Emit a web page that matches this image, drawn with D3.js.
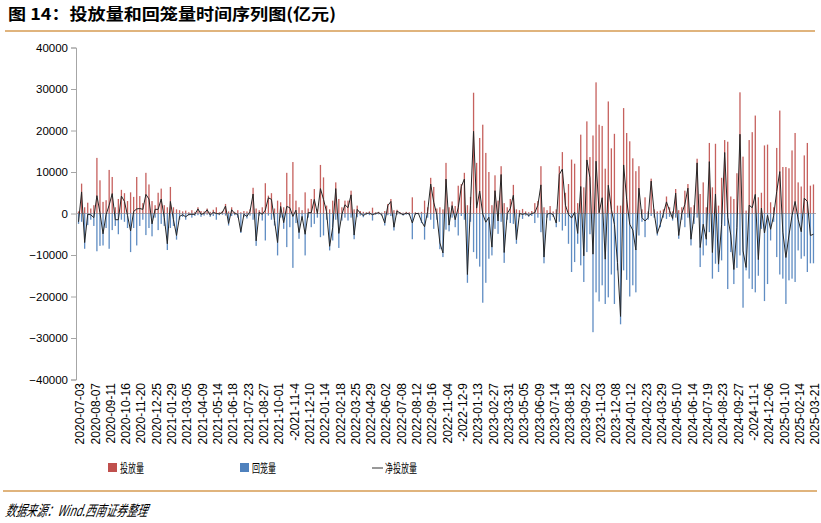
<!DOCTYPE html>
<html><head><meta charset="utf-8">
<script src="https://cdn.jsdelivr.net/npm/d3@7/dist/d3.min.js"></script>
<style>
body{margin:0;background:#fff;}
svg{display:block;}
</style></head>
<body>
<svg id="c" width="821" height="523"></svg>
<script>
const dateLabels = ["2020-07-03","2020-08-07","2020-09-11","2020-10-16","2020-11-20","2020-12-25","2021-01-29","2021-03-05","2021-04-09","2021-05-14","2021-06-18","2021-07-23","2021-08-27","2021-10-01","-2021-11-4","2021-12-10","2022-01-14","2022-02-18","2022-03-25","2022-04-29","2022-06-02","2022-07-08","2022-08-12","2022-09-16","2022-11-04","-2022-12-9","2023-01-13","2023-02-27","2023-03-31","2023-05-05","2023-06-09","2023-07-14","2023-08-18","2023-09-22","2023-11-03","2023-12-08","2024-01-12","2024-02-23","2024-03-29","2024-05-10","2024-06-14","2024-07-19","2024-08-23","2024-09-27","-2024-11-1","2024-12-06","2025-01-10","2025-02-14","2025-03-21"];

const injection = [500,7200,1500,2600,1200,2000,13400,8000,2800,3200,
10500,8800,1500,3500,5700,4900,3000,5100,4000,8800,
4200,2500,9800,7000,3000,2000,5000,6000,2000,1500,
6400,1500,1000,800,500,700,300,800,400,1500,
600,500,1200,400,900,1500,300,600,2300,500,
1500,400,800,300,600,500,1000,6200,1200,800,
1500,7300,4300,4900,1200,3100,2700,1500,9800,4700,
12400,3100,1500,800,5100,1200,3500,5900,1000,11700,
8700,1900,1000,3100,7500,3500,1500,3100,3100,5500,
1000,1900,600,400,300,500,1400,300,400,200,
600,2300,3500,800,900,300,200,400,300,3900,
300,200,400,3100,1500,8600,6400,1200,1500,1000,
12200,1500,2900,1800,6700,7100,9800,2000,4000,29100,
12200,18200,21400,14600,10000,2000,9200,3100,11400,2500,
1500,3500,6900,1000,800,1100,500,300,600,2500,
3000,11400,1500,800,1800,500,1000,11400,14800,5000,
7100,13000,12000,2500,19000,6300,22200,13600,18800,31600,
21400,21100,10800,27000,15700,19200,1900,1900,25400,19400,
17400,13300,10200,11400,1000,3900,500,8400,1000,500,
700,1000,4100,1500,500,5900,800,1500,5500,7100,
1500,2000,13200,4700,7500,1500,17000,6300,16800,1900,
8600,17700,17300,4100,3500,9700,29200,13700,700,17700,
19600,23600,3900,5000,16400,16600,2700,1500,15800,24800,
11200,11200,10900,15200,19400,7500,6500,14000,17000,6700,
7000];

const withdrawal = [-2500,-2000,-8500,-2800,-1500,-3000,-9100,-7800,-7700,-3500,
-8500,-4000,-3000,-5000,-1500,-2000,-3500,-9300,-3500,-7700,
-3000,-1500,-5200,-3500,-5500,-1000,-4000,-2500,-3000,-8800,
-3500,-3000,-6300,-1500,-800,-1500,-500,-1000,-600,-400,
-800,-500,-300,-800,-600,-1500,-400,-300,-500,-2900,
-600,-400,-1000,-4700,-800,-1200,-500,-1500,-7800,-500,
-1700,-6500,-500,-1500,-2900,-10100,-1000,-3700,-8100,-3300,
-13100,-2300,-6100,-1500,-10100,-1000,-3300,-2500,-1000,-5700,
-5300,-1500,-8900,-6500,-1500,-8300,-1700,-1000,-1700,-1000,
-6200,-900,-500,-900,-300,-400,-1700,-300,-200,-500,
-2900,-400,-600,-4100,-300,-200,-500,-300,-400,-6200,
-300,-200,-2300,-6300,-1000,-1500,-3700,-1500,-8600,-10500,
-3900,-4300,-1000,-3300,-5300,-600,-1500,-16700,-2000,-9300,
-10900,-12800,-21500,-16700,-10900,-10100,-3700,-4900,-2000,-11900,
-1500,-2300,-2500,-7300,-800,-1300,-500,-800,-600,-2300,
-1000,-4500,-12000,-1000,-1700,-800,-3300,-2000,-4100,-3000,
-7300,-14100,-11700,-7300,-12500,-16500,-9300,-5000,-28600,-19000,
-21200,-17300,-21800,-20200,-14700,-21800,-13700,-26700,-13700,-16000,
-20000,-17300,-19000,-5300,-2000,-5700,-1500,-600,-1000,-5300,
-3300,-1000,-1300,-800,-1700,-1000,-6100,-1500,-3300,-1000,
-7700,-2500,-1000,-12900,-10100,-7700,-4500,-15700,-12100,-14100,
-11300,-3000,-18200,-9300,-17000,-13100,-10100,-22700,-13700,-15700,
-18200,-19000,-15000,-3700,-21100,-17000,-6500,-2000,-10500,-14700,
-15700,-21800,-16100,-15700,-16500,-8900,-10900,-10300,-14100,-12000,
-12000];

const yTicks = [-40000,-30000,-20000,-10000,0,10000,20000,30000,40000];
const seriesNames = ["投放量","回笼量","净投放量"];

const N = injection.length;
const idx = d3.range(N);
const net = idx.map(i => injection[i] + withdrawal[i]);

const svg = d3.select("#c");
const x = d3.scaleBand().domain(idx).range([77, 815]).padding(0);
const y = d3.scaleLinear().domain([-40000, 40000]).range([379.5, 47.5]);

// title
svg.append("text").attr("x", 8).attr("y", 20)
  .attr("font-family", "'Noto Sans CJK SC', sans-serif").attr("font-weight", "bold")
  .attr("font-size", 16).attr("fill", "#000")
  .attr("textLength", 328).attr("lengthAdjust", "spacingAndGlyphs")
  .text("图 14：投放量和回笼量时间序列图(亿元)");
svg.append("line").attr("x1", 5).attr("x2", 815).attr("y1", 31).attr("y2", 31)
  .attr("stroke", "#d69b52").attr("stroke-width", 1.6);

// zero line
svg.append("line").attr("x1", 76).attr("x2", 816).attr("y1", y(0)).attr("y2", y(0))
  .attr("stroke", "#b0b0b0").attr("stroke-width", 1);

// bars
const bw = 1.3;
svg.append("g").attr("opacity", 0.9).selectAll("rect").data(idx).join("rect")
  .attr("x", i => x(i) + x.bandwidth()/2 - bw/2)
  .attr("width", bw)
  .attr("y", i => y(injection[i]))
  .attr("height", i => y(0) - y(injection[i]))
  .attr("fill", "#c0504d");
svg.append("g").attr("opacity", 0.9).selectAll("rect").data(idx).join("rect")
  .attr("x", i => x(i) + x.bandwidth()/2 - bw/2)
  .attr("width", bw)
  .attr("y", y(0))
  .attr("height", i => y(withdrawal[i]) - y(0))
  .attr("fill", "#4f81bd");

// net line
svg.append("path").datum(idx)
  .attr("fill", "none").attr("stroke", "#262626").attr("stroke-width", 1)
  .attr("d", d3.line().x(i => x(i) + x.bandwidth()/2).y(i => y(net[i])));

// y axis
const yAxis = svg.append("g").attr("transform", "translate(76,0)")
  .call(d3.axisLeft(y).tickValues(yTicks).tickSize(5).tickPadding(3).tickFormat(d3.format("d")));
yAxis.select(".domain").attr("stroke", "#a6a6a6");
yAxis.selectAll(".tick line").attr("stroke", "#a6a6a6");
yAxis.selectAll("text").attr("font-family", "'Liberation Sans', Arial, sans-serif")
  .attr("font-size", 11.5).attr("fill", "#000");

// x axis labels
const xAxis = svg.append("g").attr("transform", "translate(1.5,383)")
  .call(d3.axisBottom(x).tickValues(d3.range(0, N, 5)).tickSize(0).tickPadding(0)
    .tickFormat(i => dateLabels[i / 5]));
xAxis.select(".domain").remove();
xAxis.selectAll("text")
  .attr("font-family", "'Liberation Sans', Arial, sans-serif").attr("font-size", 12)
  .attr("fill", "#000")
  .attr("text-anchor", "end").attr("transform", "rotate(-90)")
  .attr("x", 0).attr("y", 0).attr("dy", "0.35em");

// legend
const lg = svg.append("g").attr("font-family", "'Noto Sans CJK SC', sans-serif").attr("font-size", 12).attr("fill", "#000");
lg.append("rect").attr("x", 108).attr("y", 463).attr("width", 9).attr("height", 9).attr("fill", "#c0504d");
lg.append("text").attr("x", 120).attr("y", 472.5).attr("textLength", 24).attr("lengthAdjust", "spacingAndGlyphs").text(seriesNames[0]);
lg.append("rect").attr("x", 240).attr("y", 463).attr("width", 9).attr("height", 9).attr("fill", "#4f81bd");
lg.append("text").attr("x", 252).attr("y", 472.5).attr("textLength", 24).attr("lengthAdjust", "spacingAndGlyphs").text(seriesNames[1]);
lg.append("line").attr("x1", 372).attr("x2", 383).attr("y1", 468).attr("y2", 468).attr("stroke", "#333").attr("stroke-width", 1);
lg.append("text").attr("x", 385).attr("y", 472.5).attr("textLength", 32).attr("lengthAdjust", "spacingAndGlyphs").text(seriesNames[2]);

// footer
svg.append("line").attr("x1", 3).attr("x2", 817).attr("y1", 491).attr("y2", 491)
  .attr("stroke", "#d69b52").attr("stroke-width", 1.6);
svg.append("text").attr("x", 5).attr("y", 516)
  .attr("font-family", "'Noto Sans CJK SC', sans-serif").attr("font-style", "italic")
  .attr("font-size", 15).attr("fill", "#000")
  .attr("textLength", 142).attr("lengthAdjust", "spacingAndGlyphs")
  .attr("transform", "skewX(-12) translate(109.7,0)")
  .text("数据来源：Wind.西南证券整理");
</script>
</body></html>
